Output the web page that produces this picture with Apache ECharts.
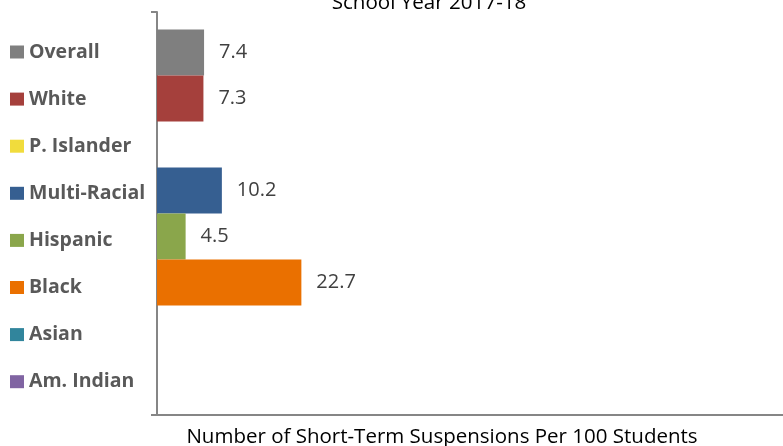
<!DOCTYPE html>
<html>
<head>
<meta charset="utf-8">
<script src="https://cdn.jsdelivr.net/npm/echarts@6/dist/echarts.min.js"></script>
<style>
  html, body { margin: 0; padding: 0; background: #fff; }
  #chart { width: 783px; height: 446px; }
</style>
</head>
<body>
<div id="chart"></div>
<script>
// groups, top to bottom
var groups = ['Overall', 'White', 'P. Islander', 'Multi-Racial', 'Hispanic', 'Black', 'Asian', 'Am. Indian'];
var rates = [7.4, 7.3, null, 10.2, 4.5, 22.7, null, null];
var colors = ['#7f7f7f', '#a5403c', '#f1dc3c', '#365f91', '#8aa64b', '#ea7000', '#31859c', '#8064a2'];
var category = [''];

var chart = echarts.init(document.getElementById('chart'));

var series = groups.map(function (g, i) {
    return {
        name: g,
        type: 'bar',
        data: [rates[i]],
        itemStyle: { color: colors[i] },
        barGap: 0,
        barCategoryGap: '8.7%',
        label: {
            show: true,
            position: 'right',
            distance: 15,
            color: '#404040',
            fontSize: 20,
            fontFamily: 'Open Sans',
            formatter: function (p) { return p.value == null ? '' : p.value.toFixed(1); }
        }
    };
});

var option = {
    animation: false,
    title: {
        text: 'School Year 2017-18',
        left: 424,
        textAlign: 'center',
        top: -12,
        textStyle: { fontSize: 20.6, fontWeight: 'normal', color: '#000', fontFamily: 'Open Sans' }
    },
    legend: {
        orient: 'vertical',
        left: 10,
        top: 42,
        padding: 0,
        itemWidth: 14,
        itemHeight: 13,
        itemGap: 27.1,
        icon: 'rect',
        data: groups,
        textStyle: { fontSize: 19.5, fontWeight: 'bold', color: '#595959', fontFamily: 'Open Sans' }
    },
    grid: { left: 157, right: -10, top: 12, bottom: 31, outerBoundsMode: 'none' },
    xAxis: {
        type: 'value',
        min: 0,
        max: 100,
        name: 'Number of Short-Term Suspensions Per 100 Students',
        nameLocation: 'middle',
        nameGap: 12,
        nameTextStyle: { fontSize: 20.5, color: '#000', fontFamily: 'Open Sans', padding: [0, 66, 0, 0] },
        axisLine: { show: true, lineStyle: { color: '#868686', width: 2 } },
        axisTick: { show: false },
        axisLabel: { show: false },
        splitLine: { show: false }
    },
    yAxis: {
        type: 'category',
        inverse: true,
        data: category,
        axisLine: { show: true, lineStyle: { color: '#868686', width: 2 } },
        axisTick: { show: true, length: 6, lineStyle: { color: '#868686', width: 2 } },
        axisLabel: { show: false }
    },
    series: series
};

chart.setOption(option);
</script>
</body>
</html>
